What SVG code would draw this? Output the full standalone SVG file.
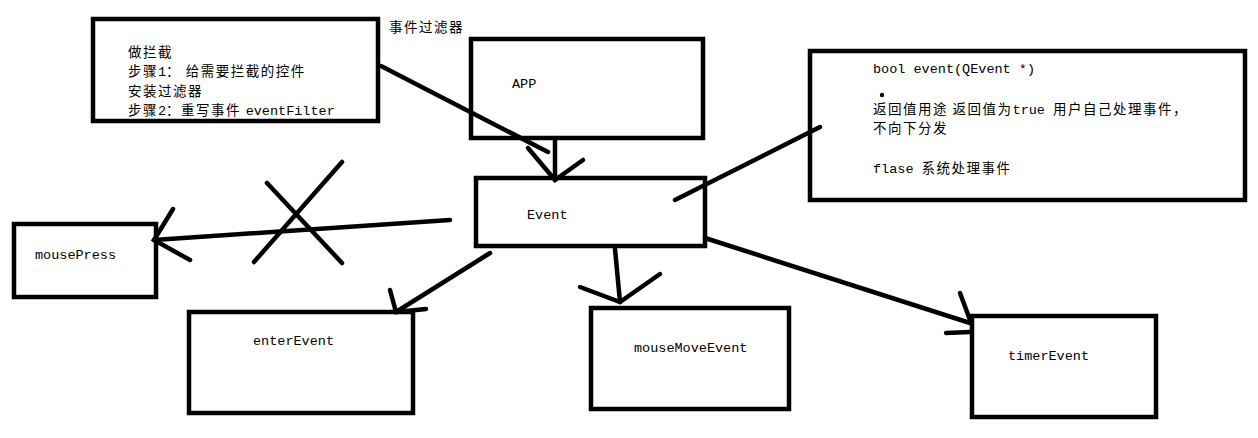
<svg xmlns="http://www.w3.org/2000/svg" width="1258" height="438" viewBox="0 0 1258 438">
<style>
.box{fill:none;stroke:#000;stroke-width:4.5}
.ln{fill:none;stroke:#000;stroke-width:4.5;stroke-linecap:round}
.t{font-family:"Liberation Mono","Noto Sans CJK SC",monospace;font-size:13.5px;fill:#000}
.c{font-family:"Noto Sans CJK SC",sans-serif;font-size:13.5px;letter-spacing:1.5px}
</style>
<rect width="1258" height="438" fill="#fff"/>
<g id="connectors">
  <line class="ln" x1="381" y1="66" x2="548" y2="152"/>
  <line class="ln" x1="555" y1="138" x2="555" y2="180"/>
  <polyline class="ln" points="528,148 555,180 583,160"/>
  <line class="ln" x1="820" y1="127" x2="675" y2="200"/>
  <line class="ln" x1="450" y1="220" x2="154" y2="240"/>
  <polyline class="ln" points="173,209 154,240 190,260"/>
  <line class="ln" x1="342" y1="162" x2="254" y2="262"/>
  <line class="ln" x1="267" y1="183" x2="342" y2="263"/>
  <line class="ln" x1="490" y1="253" x2="396" y2="312"/>
  <polyline class="ln" points="390,290 396,312 426,309"/>
  <line class="ln" x1="615" y1="249" x2="620" y2="302"/>
  <polyline class="ln" points="580,287 620,302 660,274"/>
  <line class="ln" x1="705" y1="238" x2="970" y2="323"/>
  <line class="ln" x1="960" y1="293" x2="970" y2="320"/>
  <line class="ln" x1="946" y1="333" x2="970" y2="332"/>
</g>
<g id="filter-note">
  <rect class="box" x="93" y="19" width="285" height="102"/>
  <text class="t" x="128" y="57"><tspan class="c">做拦截</tspan></text>
  <text class="t" x="128" y="76.3"><tspan class="c">步骤</tspan>1<tspan class="c">：  给需要拦截的控件</tspan></text>
  <text class="t" x="128" y="95.7"><tspan class="c">安装过滤器</tspan></text>
  <text class="t" x="128" y="115"><tspan class="c">步骤</tspan>2<tspan class="c">：重写事件 </tspan>eventFilter</text>
</g>
<g id="filter-label">
  <text class="t" x="389" y="32"><tspan class="c">事件过滤器</tspan></text>
</g>
<g id="app">
  <rect class="box" x="471" y="39" width="232" height="99"/>
  <text class="t" x="512" y="88">APP</text>
</g>
<g id="event">
  <rect class="box" x="476" y="178" width="229" height="68"/>
  <text class="t" x="527" y="219">Event</text>
</g>
<g id="info-note">
  <rect class="box" x="810" y="51" width="435" height="149"/>
  <text class="t" x="873" y="73">bool event(QEvent *)</text>
  <circle cx="882" cy="95" r="2.2" fill="#000"/>
  <text class="t" x="873" y="113.5"><tspan class="c">返回值用途 返回值为</tspan>true <tspan class="c">用户自己处理事件，</tspan></text>
  <text class="t" x="873" y="132.5"><tspan class="c">不向下分发</tspan></text>
  <text class="t" x="873" y="172.5">flase <tspan class="c">系统处理事件</tspan></text>
</g>
<g id="mousePress">
  <rect class="box" x="14" y="224" width="142" height="73"/>
  <text class="t" x="35" y="259">mousePress</text>
</g>
<g id="enterEvent">
  <rect class="box" x="189" y="312" width="224" height="101"/>
  <text class="t" x="253" y="345">enterEvent</text>
</g>
<g id="mouseMoveEvent">
  <rect class="box" x="591" y="308" width="198" height="101"/>
  <text class="t" x="634" y="352">mouseMoveEvent</text>
</g>
<g id="timerEvent">
  <rect class="box" x="972" y="316" width="184" height="101"/>
  <text class="t" x="1008" y="360">timerEvent</text>
</g>
</svg>
